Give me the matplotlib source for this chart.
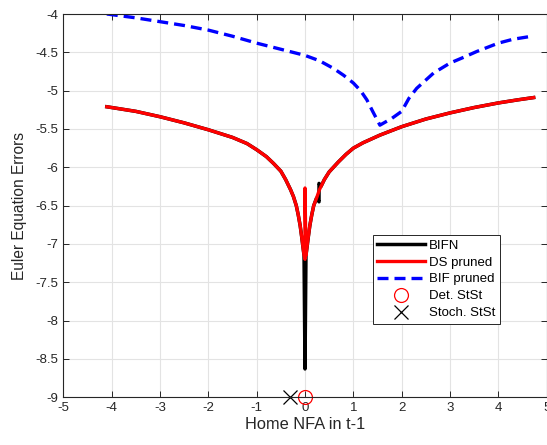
import numpy as np
import matplotlib
matplotlib.use("Agg")
import matplotlib.pyplot as plt

plt.rcParams['font.family'] = ['Liberation Sans', 'DejaVu Sans']
plt.rcParams['axes.unicode_minus'] = False

# Euler equation errors vs home NFA
x_ds = [-4.1, -3.5, -3.0, -2.5, -2.0, -1.5, -1.2, -1.0, -0.8, -0.65, -0.5, -0.4, -0.3, -0.24,
        -0.18, -0.14, -0.1, -0.07, -0.04, -0.02, 0.0,
        0.0, 0.02, 0.04, 0.07, 0.1, 0.14, 0.18, 0.24, 0.3, 0.4, 0.5, 0.69, 0.85, 1.0, 1.2,
        1.55, 2.0, 2.5, 3.0, 3.5, 4.0, 4.4, 4.73]
y_ds = [-5.21, -5.27, -5.34, -5.42, -5.51, -5.61, -5.69, -5.77, -5.86, -5.95, -6.05, -6.16, -6.29, -6.38,
        -6.50, -6.62, -6.76, -6.90, -7.05, -7.15, -7.2,
        -6.27, -7.15, -7.05, -6.90, -6.76, -6.62, -6.50, -6.40, -6.29, -6.16, -6.06, -5.93, -5.83, -5.75, -5.68,
        -5.58, -5.47, -5.37, -5.29, -5.22, -5.16, -5.12, -5.09]

x_bifn = [-4.1, -3.5, -3.0, -2.5, -2.0, -1.5, -1.2, -1.0, -0.8, -0.65, -0.5, -0.4, -0.3, -0.24,
          -0.18, -0.14, -0.1, -0.07, -0.04, -0.02, 0.0,
          0.02, 0.04, 0.07, 0.1, 0.14, 0.18, 0.24, 0.29, 0.29, 0.33, 0.4, 0.5, 0.69, 0.85, 1.0, 1.2,
          1.55, 2.0, 2.5, 3.0, 3.5, 4.0, 4.4, 4.73]
y_bifn = [-5.21, -5.27, -5.34, -5.42, -5.51, -5.61, -5.69, -5.77, -5.86, -5.95, -6.05, -6.16, -6.29, -6.38,
          -6.50, -6.62, -6.76, -6.90, -7.05, -7.15, -8.63,
          -7.15, -7.05, -6.90, -6.76, -6.62, -6.50, -6.40, -6.45, -6.21, -6.25, -6.16, -6.06, -5.93, -5.83, -5.75, -5.68,
          -5.58, -5.47, -5.37, -5.29, -5.22, -5.16, -5.12, -5.09]

x_bif = [-4.1, -3.5, -3.0, -2.5, -2.0, -1.5, -1.0, -0.5, 0.0, 0.3, 0.59, 0.8, 1.0, 1.15, 1.28, 1.4, 1.55,
         1.8, 2.0, 2.15, 2.31, 2.66, 3.0, 3.3, 3.55, 4.0, 4.3, 4.69]
y_bif = [-4.0, -4.05, -4.10, -4.15, -4.21, -4.29, -4.38, -4.46, -4.54, -4.61, -4.71, -4.80, -4.90, -5.0, -5.12, -5.27, -5.45,
         -5.36, -5.27, -5.10, -4.97, -4.77, -4.64, -4.56, -4.49, -4.38, -4.33, -4.29]

det_stst = (0.0, -9.0)
stoch_stst = (-0.3, -9.0)

fig = plt.figure(figsize=(5.47, 4.45), dpi=100)
ax = fig.add_axes([63.3 / 547, 1 - 397.3 / 445, (546.7 - 63.3) / 547, (397.3 - 14) / 445])

ax.plot(x_bifn, y_bifn, color='black', lw=2.5, label='BIFN')
ax.plot(x_ds, y_ds, color='red', lw=2.4, label='DS pruned')
ax.plot(x_bif, y_bif, color='blue', lw=2.4, dashes=(3.3, 1.8), label='BIF pruned')
ax.plot(*det_stst, 'o', ms=10, mfc='none', mec='red', mew=0.9, label='Det. StSt', clip_on=False)
ax.plot(*stoch_stst, 'x', ms=10, color='black', mew=0.9, label='Stoch. StSt', clip_on=False)

ax.set_xlim(-5, 5)
ax.set_ylim(-9, -4)
ax.set_xticks(np.arange(-5, 6, 1))
ax.set_yticks(np.arange(-9, -3.9, 0.5))
ax.set_yticklabels(['-9', '-8.5', '-8', '-7.5', '-7', '-6.5', '-6', '-5.5', '-5', '-4.5', '-4'])
ax.grid(True, color='#e3e3e3', lw=0.8)
ax.set_axisbelow(True)

dark = '#262626'
for s in ax.spines.values():
    s.set_color(dark)
    s.set_linewidth(0.8)
ax.tick_params(direction='in', length=4, width=0.7, colors=dark, labelsize=9.5,
               top=True, right=True, labelcolor=dark)

ax.set_xlabel('Home NFA in t-1', fontsize=11.8, color=dark, labelpad=2)
ax.set_ylabel('Euler Equation Errors', fontsize=11.2, color=dark, labelpad=6)

leg = ax.legend(loc='lower left', bbox_to_anchor=(0.64, 0.191), fontsize=9.5, frameon=True,
                fancybox=False, framealpha=1, edgecolor=dark, borderaxespad=0,
                handlelength=3.6, handletextpad=0.3, labelspacing=0.36, borderpad=0.35)
leg.get_frame().set_linewidth(0.7)
for t in leg.get_texts():
    t.set_color('black')

fig.savefig('out.png', dpi=100)
